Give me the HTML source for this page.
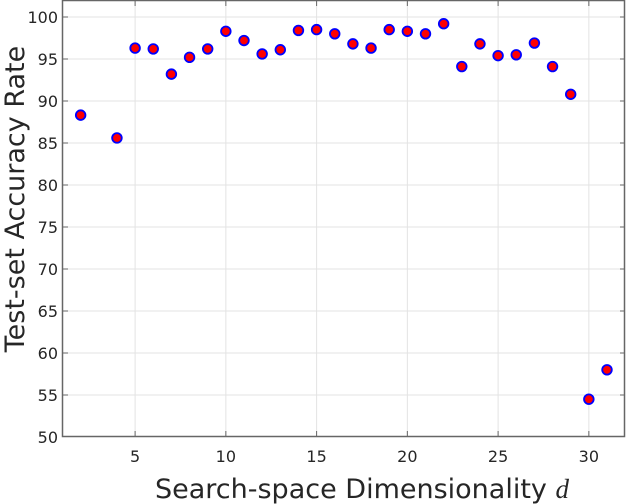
<!DOCTYPE html>
<html><head><style>body{margin:0;background:#fff}svg{display:block}</style></head><body>
<svg width="626" height="504" xmlns="http://www.w3.org/2000/svg" font-family="'DejaVu Sans','Liberation Sans',sans-serif">
<g stroke="#e3e3e3" stroke-width="1">
<line x1="135.1" y1="1" x2="135.1" y2="436"/><line x1="225.85" y1="1" x2="225.85" y2="436"/><line x1="316.6" y1="1" x2="316.6" y2="436"/><line x1="407.35" y1="1" x2="407.35" y2="436"/><line x1="498.1" y1="1" x2="498.1" y2="436"/><line x1="588.85" y1="1" x2="588.85" y2="436"/>
<line x1="63" y1="395" x2="625" y2="395"/><line x1="63" y1="353" x2="625" y2="353"/><line x1="63" y1="311" x2="625" y2="311"/><line x1="63" y1="269" x2="625" y2="269"/><line x1="63" y1="227" x2="625" y2="227"/><line x1="63" y1="185" x2="625" y2="185"/><line x1="63" y1="143" x2="625" y2="143"/><line x1="63" y1="101" x2="625" y2="101"/><line x1="63" y1="59" x2="625" y2="59"/><line x1="63" y1="17" x2="625" y2="17"/>
</g>
<rect x="62.5" y="0.5" width="562" height="436" fill="none" stroke="#666" stroke-width="1.5"/>
<g stroke="#666">
<line x1="135.1" y1="436" x2="135.1" y2="431"/><line x1="225.85" y1="436" x2="225.85" y2="431"/><line x1="316.6" y1="436" x2="316.6" y2="431"/><line x1="407.35" y1="436" x2="407.35" y2="431"/><line x1="498.1" y1="436" x2="498.1" y2="431"/><line x1="588.85" y1="436" x2="588.85" y2="431"/>
<line x1="135.1" y1="1" x2="135.1" y2="6"/><line x1="225.85" y1="1" x2="225.85" y2="6"/><line x1="316.6" y1="1" x2="316.6" y2="6"/><line x1="407.35" y1="1" x2="407.35" y2="6"/><line x1="498.1" y1="1" x2="498.1" y2="6"/><line x1="588.85" y1="1" x2="588.85" y2="6"/>
<line x1="63" y1="395" x2="68" y2="395"/><line x1="63" y1="353" x2="68" y2="353"/><line x1="63" y1="311" x2="68" y2="311"/><line x1="63" y1="269" x2="68" y2="269"/><line x1="63" y1="227" x2="68" y2="227"/><line x1="63" y1="185" x2="68" y2="185"/><line x1="63" y1="143" x2="68" y2="143"/><line x1="63" y1="101" x2="68" y2="101"/><line x1="63" y1="59" x2="68" y2="59"/><line x1="63" y1="17" x2="68" y2="17"/>
<line x1="625" y1="395" x2="620" y2="395"/><line x1="625" y1="353" x2="620" y2="353"/><line x1="625" y1="311" x2="620" y2="311"/><line x1="625" y1="269" x2="620" y2="269"/><line x1="625" y1="227" x2="620" y2="227"/><line x1="625" y1="185" x2="620" y2="185"/><line x1="625" y1="143" x2="620" y2="143"/><line x1="625" y1="101" x2="620" y2="101"/><line x1="625" y1="59" x2="620" y2="59"/><line x1="625" y1="17" x2="620" y2="17"/>
</g>
<g font-size="16" fill="#262626" text-anchor="middle">
<text x="135.1" y="462">5</text><text x="225.85" y="462">10</text><text x="316.6" y="462">15</text><text x="407.35" y="462">20</text><text x="498.1" y="462">25</text><text x="588.85" y="462">30</text>
</g>
<g font-size="16" fill="#262626" text-anchor="end">
<text x="58" y="443">50</text><text x="58" y="401">55</text><text x="58" y="359">60</text><text x="58" y="317">65</text><text x="58" y="275">70</text><text x="58" y="233">75</text><text x="58" y="191">80</text><text x="58" y="149">85</text><text x="58" y="107">90</text><text x="58" y="65">95</text><text x="58" y="23">100</text>
</g>
<g fill="#f00" stroke="#00f" stroke-width="1.8">
<circle cx="80.65" cy="115.12" r="4.8"/><circle cx="116.95" cy="137.96" r="4.8"/><circle cx="135.1" cy="48.08" r="4.8"/><circle cx="153.25" cy="48.92" r="4.8"/><circle cx="171.4" cy="74.12" r="4.8"/><circle cx="189.55" cy="57.32" r="4.8"/><circle cx="207.7" cy="48.92" r="4.8"/><circle cx="225.85" cy="31.28" r="4.8"/><circle cx="244" cy="40.52" r="4.8"/><circle cx="262.15" cy="53.96" r="4.8"/><circle cx="280.3" cy="49.76" r="4.8"/><circle cx="298.45" cy="30.44" r="4.8"/><circle cx="316.6" cy="29.6" r="4.8"/><circle cx="334.75" cy="33.8" r="4.8"/><circle cx="352.9" cy="43.88" r="4.8"/><circle cx="371.05" cy="48.08" r="4.8"/><circle cx="389.2" cy="29.6" r="4.8"/><circle cx="407.35" cy="31.28" r="4.8"/><circle cx="425.5" cy="33.8" r="4.8"/><circle cx="443.65" cy="23.72" r="4.8"/><circle cx="461.8" cy="66.56" r="4.8"/><circle cx="479.95" cy="43.88" r="4.8"/><circle cx="498.1" cy="55.64" r="4.8"/><circle cx="516.25" cy="54.8" r="4.8"/><circle cx="534.4" cy="43.04" r="4.8"/><circle cx="552.55" cy="66.56" r="4.8"/><circle cx="570.7" cy="94.28" r="4.8"/><circle cx="588.85" cy="399.2" r="4.8"/><circle cx="607" cy="369.8" r="4.8"/>
</g>
<text x="362" y="498" font-size="27" fill="#262626" text-anchor="middle">Search-space Dimensionality <tspan font-family="'Liberation Serif',serif" font-style="italic">d</tspan></text>
<text transform="translate(24,199) rotate(-90)" font-size="27" fill="#262626" text-anchor="middle">Test-set Accuracy Rate</text>
</svg>
</body></html>
